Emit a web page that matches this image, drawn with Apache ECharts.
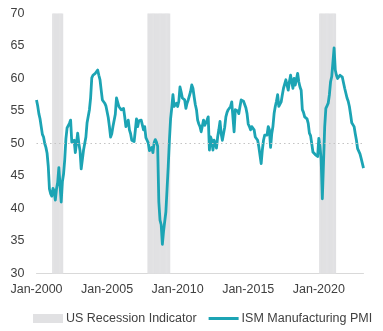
<!DOCTYPE html>
<html>
<head>
<meta charset="utf-8">
<script src="https://cdn.jsdelivr.net/npm/echarts@6/dist/echarts.min.js"></script>
<style>html,body{margin:0;padding:0;background:#fff}#c{width:383px;height:331px}</style>
</head>
<body>
<div id="c"></div>
<script>
// ISM Manufacturing PMI, monthly, Jan-2000 .. Mar-2023
const pmi2000 = [56.7, 55.8, 54.6, 53.8, 52.6, 51.4, 51.0, 50.0, 49.4, 48.5, 46.5, 43.0];
const pmi2001 = [42.3, 41.9, 43.1, 42.7, 41.3, 43.0, 44.0, 46.3, 46.0, 41.0, 44.1, 45.3];
const pmi2002 = [47.5, 50.7, 52.4, 52.4, 53.1, 53.6, 50.2, 50.3, 50.5, 48.6, 48.5, 51.6];
const pmi2003 = [50.0, 48.9, 46.1, 46.0, 49.0, 49.0, 51.0, 53.2, 53.0, 55.2, 57.0, 60.1];
const pmi2004 = [60.5, 60.4, 60.8, 60.6, 61.3, 60.5, 59.8, 58.2, 56.7, 57.0, 56.2, 55.8];
const pmi2005 = [55.5, 54.0, 52.6, 51.0, 51.5, 52.6, 52.6, 54.5, 57.0, 57.3, 55.7, 55.4];
const pmi2006 = [55.2, 55.4, 55.4, 54.1, 52.6, 53.0, 53.6, 52.1, 51.5, 50.5, 50.3, 50.3];
const pmi2007 = [52.0, 53.8, 52.6, 53.5, 53.8, 53.6, 53.6, 52.1, 52.6, 50.9, 50.5, 50.1];
const pmi2008 = [48.9, 49.2, 49.4, 48.6, 50.1, 50.6, 50.2, 49.6, 41.0, 38.2, 37.5, 34.5];
const pmi2009 = [36.5, 36.8, 39.5, 43.0, 46.5, 50.5, 53.8, 55.5, 57.5, 55.7, 56.0, 56.2];
const pmi2010 = [55.7, 56.5, 58.7, 57.9, 57.0, 56.7, 56.7, 55.4, 56.2, 56.7, 57.0, 58.0];
const pmi2011 = [59.0, 58.5, 57.2, 56.0, 55.2, 53.6, 53.0, 52.6, 51.8, 51.6, 53.6, 52.8];
const pmi2012 = [53.0, 53.6, 54.1, 49.0, 51.0, 50.5, 49.0, 50.5, 50.0, 49.3, 51.0, 52.1];
const pmi2013 = [53.4, 51.5, 50.5, 50.8, 52.5, 54.1, 54.8, 55.2, 55.5, 55.7, 56.4, 54.0];
const pmi2014 = [51.8, 55.2, 55.4, 55.0, 54.6, 55.7, 56.7, 56.4, 56.5, 56.7, 55.5, 54.6];
const pmi2015 = [53.0, 52.6, 52.1, 52.6, 52.3, 52.1, 51.0, 50.8, 50.5, 49.5, 49.2, 46.9];
const pmi2016 = [49.0, 50.5, 51.3, 51.0, 51.3, 52.6, 52.1, 49.4, 51.5, 52.6, 54.6, 55.7];
const pmi2017 = [56.5, 57.5, 55.7, 56.0, 56.4, 57.5, 58.5, 58.8, 59.8, 59.0, 58.2, 59.5];
const pmi2018 = [60.5, 59.5, 58.5, 60.0, 59.0, 58.7, 60.8, 59.5, 58.7, 58.2, 55.2, 54.8];
const pmi2019 = [54.1, 54.4, 53.8, 53.1, 51.6, 51.2, 50.0, 48.7, 48.5, 48.3, 48.2, 48.0];
const pmi2020 = [50.8, 49.6, 47.5, 41.5, 47.0, 52.5, 55.4, 55.8, 56.2, 57.5, 59.5, 60.3];
const pmi2021 = [60.0, 64.7, 61.3, 60.5, 60.0, 60.3, 60.5, 60.8, 60.2, 60.0, 58.5, 58.2];
const pmi2022 = [57.0, 56.5, 55.7, 54.5, 53.2, 52.9, 52.6, 51.5, 50.5, 49.2, 49.0, 48.4];
const pmi2023 = [47.7, 47.4, 46.2];

// US recession periods (first and last month shaded)
const recessionPeriods = [['Mar-2001', 'Nov-2001'], ['Dec-2007', 'Jun-2009'], ['Feb-2020', 'Mar-2021']];
const recessionLevel = 70;

const yTicks = { min: 30, max: 70, interval: 5 };
const pmiThreshold = 50;
const monthNames = ['Jan','Feb','Mar','Apr','May','Jun','Jul','Aug','Sep','Oct','Nov','Dec'];

const pmi = [].concat(pmi2000, pmi2001, pmi2002, pmi2003, pmi2004, pmi2005, pmi2006, pmi2007,
  pmi2008, pmi2009, pmi2010, pmi2011, pmi2012, pmi2013, pmi2014, pmi2015, pmi2016, pmi2017,
  pmi2018, pmi2019, pmi2020, pmi2021, pmi2022, pmi2023);

const categories = pmi.map((v, i) => monthNames[i % 12] + '-' + (2000 + Math.floor(i / 12)));

const recession = categories.map(() => '-');
recessionPeriods.forEach(([a, b]) => {
  const s = categories.indexOf(a), e = categories.indexOf(b);
  for (let i = s; i <= e; i++) recession[i] = recessionLevel;
});

const font = "'Liberation Sans', Arial, sans-serif";
const txt = '#404040';
const teal = '#1ca4b4';

const chart = echarts.init(document.getElementById('c'), null, { renderer: 'canvas' });
chart.setOption({
  animation: false,
  backgroundColor: '#fff',
  grid: { left: 36.5, right: 19.5, top: 13.5, bottom: 57.5, containLabel: false },
  legend: {
    left: 33, top: 312, width: 350, padding: 0,
    itemGap: 12, itemWidth: 30, itemHeight: 9,
    textStyle: { fontFamily: font, fontSize: 12.5, color: txt, padding: [0, 0, 0, -2] },
    data: [
      { name: 'US Recession Indicator', icon: 'rect' },
      { name: 'ISM Manufacturing PMI', icon: 'path://M0 0 H30 V3 H0 Z', itemStyle: { color: teal } }
    ]
  },
  xAxis: {
    type: 'category',
    data: categories,
    boundaryGap: false,
    axisLine: { lineStyle: { color: '#d9d9d9', width: 1 } },
    axisTick: { show: false },
    axisLabel: { interval: 59, color: txt, fontFamily: font, fontSize: 12.5, margin: 10 },
    splitLine: { show: false }
  },
  yAxis: {
    type: 'value',
    min: yTicks.min, max: yTicks.max, interval: yTicks.interval,
    axisLine: { show: false },
    axisTick: { show: false },
    splitLine: { show: false },
    axisLabel: { color: txt, fontFamily: font, fontSize: 12.5, margin: 12 }
  },
  series: [
    {
      name: 'US Recession Indicator',
      type: 'bar',
      data: recession,
      barWidth: 1.7,
      itemStyle: { color: '#e1e1e3' },
      z: 1,
      silent: true
    },
    {
      name: 'ISM Manufacturing PMI',
      type: 'line',
      data: pmi,
      symbol: 'none',
      showSymbol: false,
      lineStyle: { color: teal, width: 2.8, join: 'round' },
      itemStyle: { color: teal },
      z: 3,
      markLine: {
        silent: true,
        symbol: 'none',
        label: { show: false },
        lineStyle: { color: '#c4c4c4', type: [1.5, 3], width: 1.2 },
        data: [{ yAxis: pmiThreshold }]
      }
    }
  ]
});
</script>
</body>
</html>
